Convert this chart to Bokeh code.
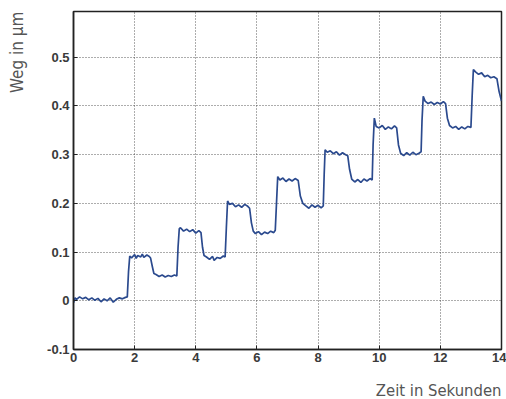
from bokeh.plotting import figure
from bokeh.models import FixedTicker, Range1d, Title
from bokeh.embed import file_html
from bokeh.resources import INLINE

# ---- data (time in s, displacement in µm) ----
zeit = [0.0, 0.05, 0.1, 0.2, 0.3, 0.4, 0.5, 0.6, 0.7, 0.8, 0.9, 1.0, 1.1, 1.2, 1.3, 1.4, 1.5, 1.6, 1.7, 1.76,
        1.80, 1.84, 1.9, 2.0, 2.05, 2.1, 2.2, 2.25, 2.3, 2.4, 2.48, 2.52,
        2.58, 2.63, 2.7, 2.8, 2.9, 3.0, 3.1, 3.2, 3.3, 3.38,
        3.42, 3.46, 3.5, 3.6, 3.7, 3.8, 3.9, 4.0, 4.1, 4.17,
        4.22, 4.27, 4.35, 4.45, 4.55, 4.6, 4.7, 4.8, 4.9, 4.96,
        5.0, 5.04, 5.1, 5.2, 5.3, 5.4, 5.5, 5.6, 5.7, 5.76,
        5.82, 5.88, 5.95, 6.05, 6.15, 6.25, 6.35, 6.45, 6.55, 6.6,
        6.64, 6.68, 6.75, 6.85, 6.95, 7.05, 7.15, 7.25, 7.35,
        7.42, 7.5, 7.6, 7.7, 7.8, 7.9, 8.0, 8.1, 8.17,
        8.2, 8.23, 8.3, 8.4, 8.5, 8.6, 8.7, 8.8, 8.9, 8.97,
        9.03, 9.1, 9.2, 9.3, 9.4, 9.5, 9.6, 9.7, 9.77,
        9.8, 9.84, 9.9, 10.0, 10.1, 10.2, 10.3, 10.4, 10.5, 10.57,
        10.63, 10.7, 10.8, 10.9, 11.0, 11.1, 11.2, 11.3, 11.37,
        11.4, 11.44, 11.5, 11.6, 11.7, 11.8, 11.9, 12.0, 12.1, 12.17,
        12.23, 12.3, 12.4, 12.5, 12.6, 12.7, 12.8, 12.9, 13.0,
        13.04, 13.08, 13.15, 13.25, 13.35, 13.45, 13.55, 13.65, 13.75, 13.85,
        13.92, 14.0]
weg = [-0.004, 0.006, 0.003, 0.008, 0.004, 0.007, 0.002, 0.006, 0.001, 0.005, -0.002, 0.004, 0.0, 0.006, -0.003, 0.003, 0.006, 0.004, 0.007, 0.008,
       0.06, 0.092, 0.088, 0.095, 0.087, 0.093, 0.09, 0.096, 0.089, 0.094, 0.091, 0.088,
       0.07, 0.056, 0.054, 0.05, 0.053, 0.049, 0.052, 0.05, 0.053, 0.051,
       0.11, 0.148, 0.15, 0.143, 0.147, 0.142, 0.146, 0.139, 0.144, 0.14,
       0.11, 0.093, 0.09, 0.085, 0.091, 0.083, 0.089, 0.087, 0.092, 0.09,
       0.15, 0.205, 0.198, 0.2, 0.193, 0.197, 0.192, 0.198, 0.194, 0.19,
       0.16, 0.143, 0.138, 0.142, 0.136, 0.141, 0.138, 0.143, 0.14, 0.145,
       0.2, 0.255, 0.248, 0.252, 0.245, 0.25, 0.246, 0.251, 0.247,
       0.215, 0.2, 0.195, 0.19, 0.197, 0.192, 0.196, 0.191, 0.195,
       0.26, 0.31, 0.305, 0.308, 0.302, 0.306, 0.299, 0.304, 0.3, 0.298,
       0.27, 0.25, 0.244, 0.249, 0.243, 0.25, 0.246, 0.251, 0.248,
       0.32, 0.375, 0.358, 0.355, 0.36, 0.352, 0.357, 0.353, 0.359, 0.355,
       0.32, 0.303, 0.298, 0.304, 0.299, 0.305, 0.3, 0.303, 0.306,
       0.37, 0.42, 0.41, 0.405, 0.408, 0.403, 0.407, 0.404, 0.409, 0.405,
       0.375, 0.36, 0.355, 0.358, 0.352, 0.357, 0.353, 0.358, 0.356,
       0.42, 0.475, 0.47, 0.465, 0.468, 0.46, 0.463, 0.458, 0.46, 0.456,
       0.43, 0.41]

x_ticks = [0, 2, 4, 6, 8, 10, 12, 14]
x_tick_labels = ["0", "2", "4", "6", "8", "10", "12", "14"]
y_ticks = [-0.1, 0.0, 0.1, 0.2, 0.3, 0.4, 0.5]
y_tick_labels = ["-0.1", "0", "0.1", "0.2", "0.3", "0.4", "0.5"]

x_label = "Zeit in Sekunden"
y_label = "Weg in µm"

W, H = 506, 399
p = figure(width=W, height=H, output_backend="svg", toolbar_location=None,
           x_range=Range1d(0, 14), y_range=Range1d(-0.1, 0.594),
           min_border_left=72, min_border_right=5, min_border_top=11, min_border_bottom=49)

p.line(zeit, weg, line_color="#2b4a8e", line_width=1.7)

for ax, ticks, labels in ((p.xaxis[0], x_ticks, x_tick_labels), (p.yaxis[0], y_ticks, y_tick_labels)):
    ax.ticker = FixedTicker(ticks=ticks)
    ax.major_label_overrides = {t: l for t, l in zip(ticks, labels)}
    ax.minor_tick_line_color = None
    ax.major_tick_in = 4
    ax.major_tick_out = 0
    ax.axis_line_color = "#222222"
    ax.axis_line_width = 1.5
    ax.major_tick_line_color = "#222222"
    ax.major_label_text_font = "Liberation Sans"
    ax.major_label_text_font_style = "bold"
    ax.major_label_text_font_size = "13px"
    ax.major_label_text_color = "#3a3a3a"

p.xaxis.major_label_standoff = 3
p.yaxis.major_label_standoff = 4

for g in (p.xgrid[0], p.ygrid[0]):
    g.grid_line_color = "#333333"
    g.grid_line_dash = "1 2"
    g.grid_line_width = 1
    g.grid_line_alpha = 0.8
p.xgrid.ticker = FixedTicker(ticks=x_ticks)
p.ygrid.ticker = FixedTicker(ticks=y_ticks)

p.outline_line_color = "#222222"
p.outline_line_width = 1.5
p.outline_line_alpha = 1.0
p.background_fill_color = "white"
p.border_fill_color = "white"

title_style = dict(text_font="DejaVu Sans Condensed", text_font_style="normal", text_color="#555555")

# blank spacers push the axis titles out towards the canvas edges, like the reference
p.add_layout(Title(text=" ", text_font_size="1px", standoff=11), "below")
p.add_layout(Title(text=x_label, align="right", standoff=0, text_font_size="16.5px", **title_style), "below")
p.add_layout(Title(text=" ", text_font_size="1px", standoff=11), "left")
p.add_layout(Title(text=y_label, align="right", standoff=8, text_font_size="17px", **title_style), "left")

open("out.html", "w").write(file_html(p, INLINE))
